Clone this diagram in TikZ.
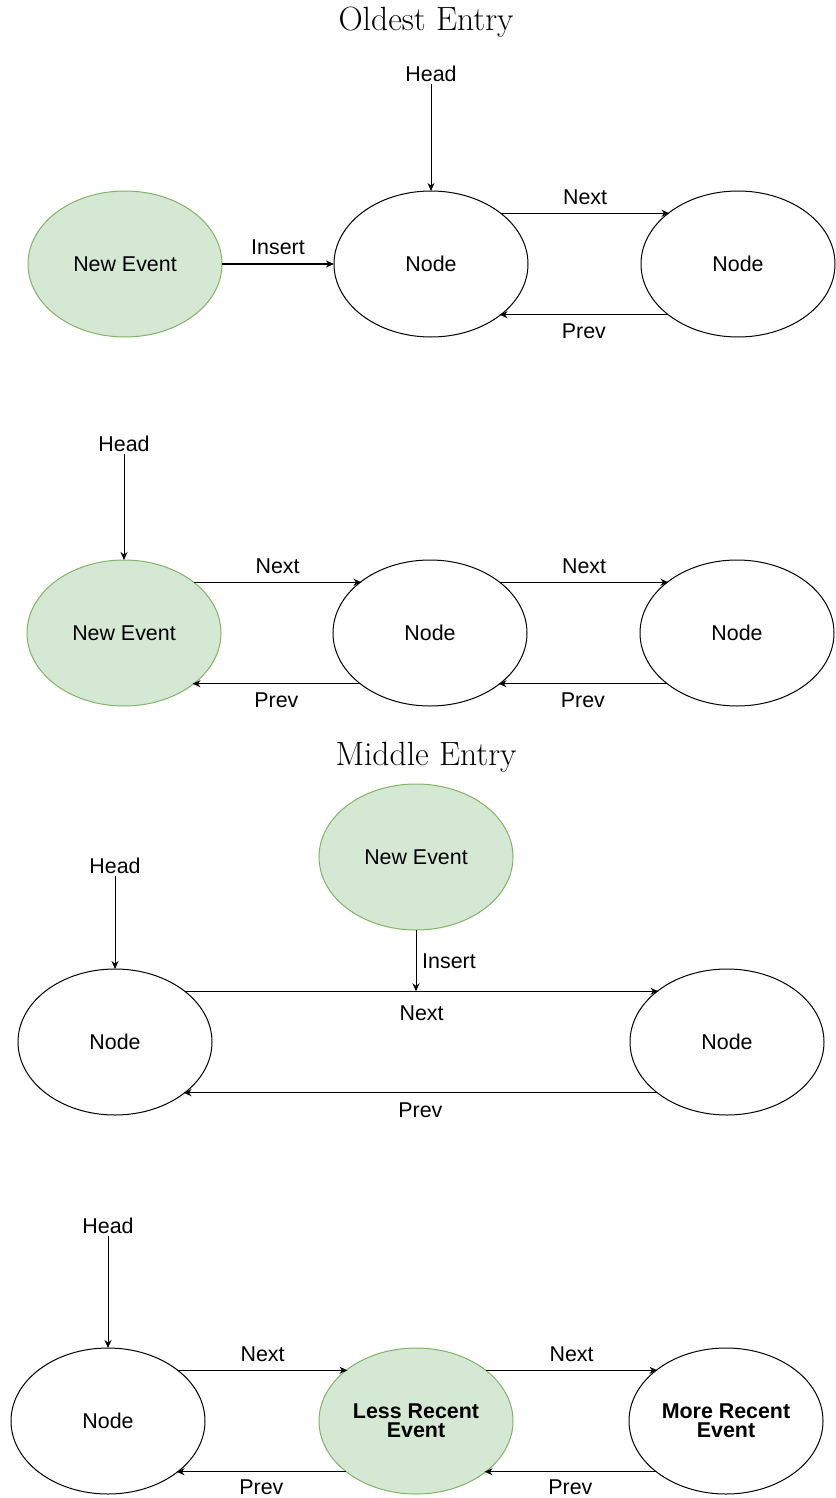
\documentclass[tikz,border=0pt]{standalone}
\usepackage{fontspec}
\newfontfamily\labfont{Liberation Sans}
\usetikzlibrary{shapes.geometric,arrows.meta}
\definecolor{evfill}{HTML}{D5E8D4}
\definecolor{evdraw}{HTML}{82B366}
\tikzset{
  ev/.style={ellipse, draw=black, line width=0.5pt, minimum width=97pt, minimum height=73pt, inner sep=0pt, outer sep=0pt, font=\labfont\fontsize{10.7}{12}\selectfont, align=center},
  green/.style={ev, fill=evfill, draw=evdraw},
  lab/.style={font=\labfont\fontsize{10.7}{12}\selectfont, text depth=0pt, inner sep=1pt},
  ttl/.style={font=\fontsize{16.8}{20}\selectfont, inner sep=0pt},
  conn/.style={line width=0.5pt, -{Stealth[length=4pt,width=3.5pt]}}
}
\begin{document}
\begin{tikzpicture}[x=0.5pt,y=-0.5pt]
\useasboundingbox (0,0) rectangle (835,1498);
% ---------- Oldest Entry ----------
\node[ttl] (t1) at (426,22) {Oldest Entry};
% row 1
\node[green] (r1a) at (125,264) {New Event};
\node[ev] (r1b) at (431,264) {Node};
\node[ev] (r1c) at (738,264) {Node};
\node[lab] (r1h) at (431,74) {Head};
\draw[conn] (r1h.south) -- (r1b.north);
\draw[conn] (r1a.east) -- node[lab, midway, yshift=8.5pt] {Insert} (r1b.west);
\draw[conn] (r1b.36.5) -- node[lab, midway, yshift=8pt] {Next} (r1c.143.5 |- r1b.36.5);
\draw[conn] (r1c.216.5) -- node[lab, midway, yshift=-8pt] {Prev} (r1b.323.5 |- r1c.216.5);
% row 2
\node[green] (r2a) at (124,633) {New Event};
\node[ev] (r2b) at (430,633) {Node};
\node[ev] (r2c) at (737,633) {Node};
\node[lab] (r2h) at (124,444) {Head};
\draw[conn] (r2h.south) -- (r2a.north);
\draw[conn] (r2a.36.5) -- node[lab, midway, yshift=8pt] {Next} (r2b.143.5 |- r2a.36.5);
\draw[conn] (r2b.216.5) -- node[lab, midway, yshift=-8pt] {Prev} (r2a.323.5 |- r2b.216.5);
\draw[conn] (r2b.36.5) -- node[lab, midway, yshift=8pt] {Next} (r2c.143.5 |- r2b.36.5);
\draw[conn] (r2c.216.5) -- node[lab, midway, yshift=-8pt] {Prev} (r2b.323.5 |- r2c.216.5);
% ---------- Middle Entry ----------
\node[ttl] (t2) at (426,757) {Middle Entry};
% row 3
\node[green] (r3n) at (416,857) {New Event};
\node[ev] (r3a) at (115,1042) {Node};
\node[ev] (r3b) at (727,1042) {Node};
\node[lab] (r3h) at (115,866) {Head};
\draw[conn] (r3h.south) -- (r3a.north);
\draw[conn] (r3a.36.5) -- node[lab, midway, yshift=-11pt] {Next} (r3b.143.5 |- r3a.36.5);
\draw[conn] (r3b.216.5) -- node[lab, midway, yshift=-8.5pt] {Prev} (r3a.323.5 |- r3b.216.5);
\coordinate (r3i) at (r3n.south |- r3a.36.5);
\draw[conn] (r3n.south) -- node[lab, midway, xshift=16.5pt] {Insert} (r3i);
% row 4
\node[ev] (r4a) at (108,1421) {Node};
\node[green, font=\labfont\bfseries\fontsize{10.7}{9.5}\selectfont] (r4b) at (416,1421) {Less Recent\\Event};
\node[ev, font=\labfont\bfseries\fontsize{10.7}{9.5}\selectfont] (r4c) at (726,1421) {More Recent\\Event};
\node[lab] (r4h) at (108,1226) {Head};
\draw[conn] (r4h.south) -- (r4a.north);
\draw[conn] (r4a.36.5) -- node[lab, midway, yshift=8pt] {Next} (r4b.143.5 |- r4a.36.5);
\draw[conn] (r4b.216.5) -- node[lab, midway, yshift=-7.5pt] {Prev} (r4a.323.5 |- r4b.216.5);
\draw[conn] (r4b.36.5) -- node[lab, midway, yshift=8pt] {Next} (r4c.143.5 |- r4b.36.5);
\draw[conn] (r4c.216.5) -- node[lab, midway, yshift=-7.5pt] {Prev} (r4b.323.5 |- r4c.216.5);
\end{tikzpicture}
\end{document}
